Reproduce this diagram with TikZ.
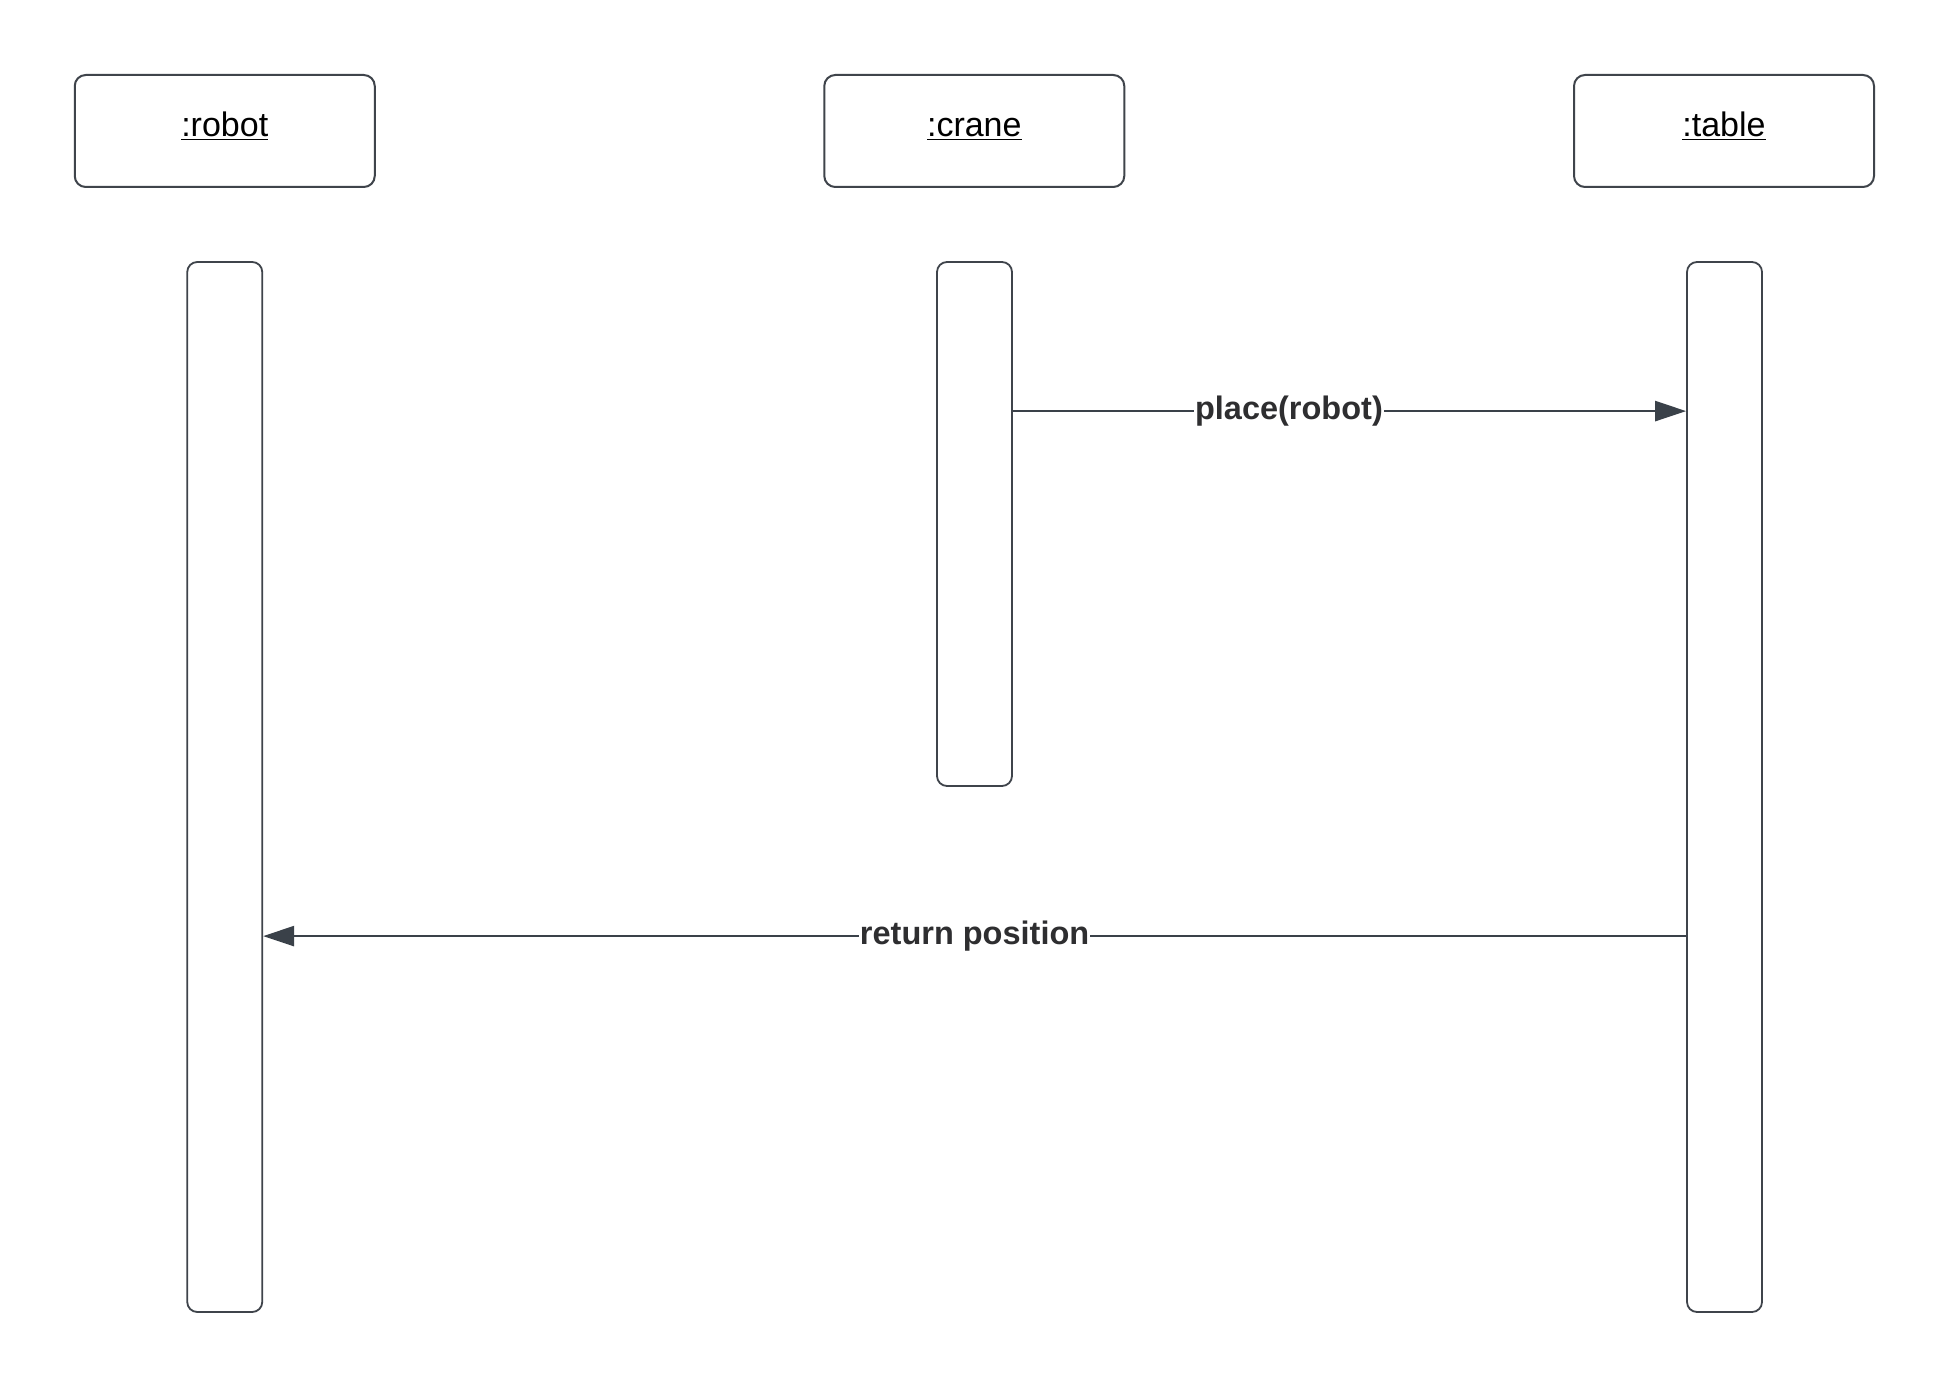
\documentclass[tikz,border=0pt]{standalone}
\usepackage{fontspec}
\setmainfont{Liberation Sans}
\usetikzlibrary{arrows.meta,calc}
\definecolor{edge}{HTML}{3F444B}
\definecolor{wire}{HTML}{3A4149}
\definecolor{ink}{HTML}{2E2E30}
\begin{document}
\begin{tikzpicture}[x=1pt,y=-1pt,
  lifehead/.style={draw=edge,line width=2pt,rounded corners=11pt,fill=white,
    minimum width=300pt,minimum height=112pt,inner sep=0pt,
    text height=24pt,text depth=12pt,
    font=\fontsize{34}{40}\selectfont,text=black},
  actbar/.style={draw=edge,line width=1.8pt,rounded corners=10pt,fill=white,
    minimum width=75pt,inner sep=0pt},
  msg/.style={draw=wire,line width=2.6pt,-{Triangle[length=31pt,width=20pt]}},
  msglabel/.style={fill=white,inner sep=1pt,text=ink,
    font=\fontsize{32.5}{38}\selectfont\bfseries}]
\useasboundingbox (0,0) rectangle (1950,1388);
\fill[white] (0,0) rectangle (1950,1388);

% object heads
\node[lifehead] (robot) at (224.75,131) {\underline{:robot}};
\node[lifehead] (crane) at (974.3,131) {\underline{:crane}};
\node[lifehead] (table) at (1724,131) {\underline{:table}};

% activation bars
\node[actbar,minimum height=1050pt] (robotbar) at (224.75,787) {};
\node[actbar,minimum height=524pt] (cranebar) at (974.5,524) {};
\node[actbar,minimum height=1050pt] (tablebar) at (1724.5,787) {};

% messages
\draw[msg] ($(cranebar.north east)+(0,150)$) -- node[msglabel,pos=0.41] {place(robot)} ($(tablebar.north west)+(0,150)$);
\draw[msg] ($(tablebar.north west)+(0,675)$) -- node[msglabel,pos=0.5] {return position} ($(robotbar.north east)+(0,675)$);
\end{tikzpicture}
\end{document}
